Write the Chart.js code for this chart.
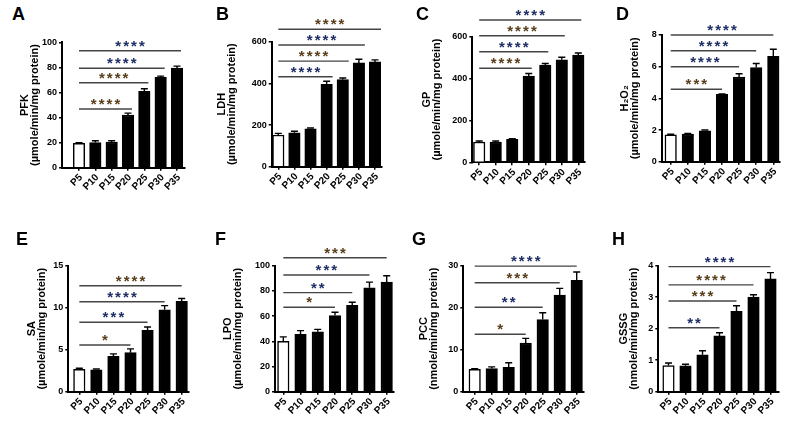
<!DOCTYPE html>
<html><head><meta charset="utf-8">
<script src="https://cdn.jsdelivr.net/npm/chart.js@4"></script>
<style>
html,body{margin:0;padding:0;background:#fff;}
#wrap{position:relative;width:795px;height:425px;overflow:hidden;background:#fff;}
#wrap canvas{position:absolute;left:0;top:0;}
.lbl{position:absolute;font:bold 18px "Liberation Sans",Arial,sans-serif;color:#000;line-height:1;}
</style></head><body>
<div id="wrap"></div>
<script>
// ---------- DATA ----------
const categories = ['P5','P10','P15','P20','P25','P30','P35'];
const bracketTargets = [3,4,5,6]; // P5 vs P20, P25, P30, P35

const pfkValues = [19.5, 20, 20.5, 42, 61, 72, 79.5];
const pfkErrors = [0.5, 1.5, 1, 1.5, 2, 1, 1.5];
const pfkTicks = [0, 20, 40, 60, 80, 100];
const pfkBracketLevels = [46.8, 67.8, 79.3, 93.3];
const pfkStars = [4, 4, 4, 4];

const ldhValues = [152, 163, 182, 395, 418, 498, 503];
const ldhErrors = [8, 7, 4, 15, 8, 18, 10];
const ldhTicks = [0, 200, 400, 600];
const ldhBracketLevels = [432, 507, 584, 659.5];
const ldhStars = [4, 4, 4, 4];

const gpValues = [97, 97, 110, 412, 464, 490, 512];
const gpErrors = [5, 5, 3, 12, 8, 12, 10];
const gpTicks = [0, 200, 400, 600];
const gpBracketLevels = [449, 528.4, 604.8, 679.6];
const gpStars = [4, 4, 4, 4];

const h2o2Values = [1.7, 1.75, 1.95, 4.25, 5.35, 5.95, 6.65];
const h2o2Errors = [0.03, 0.03, 0.05, 0.03, 0.2, 0.25, 0.45];
const h2o2Ticks = [0, 2, 4, 6, 8];
const h2o2BracketLevels = [4.57, 6.0, 7.01, 8.0];
const h2o2Stars = [3, 4, 4, 4];

const saValues = [2.65, 2.6, 4.2, 4.65, 7.3, 9.75, 10.75];
const saErrors = [0.15, 0.1, 0.3, 0.45, 0.4, 0.5, 0.35];
const saTicks = [0, 5, 10, 15];
const saBracketLevels = [5.56, 8.26, 10.71, 12.62];
const saStars = [1, 3, 4, 4];

const lpoValues = [40, 45.5, 47.5, 60.5, 68.5, 82.5, 87];
const lpoErrors = [3.5, 3, 2, 2.5, 2.5, 4.5, 5];
const lpoTicks = [0, 20, 40, 60, 80, 100];
const lpoBracketLevels = [67.0, 78.6, 92.6, 106.3];
const lpoStars = [1, 2, 3, 3];

const pccValues = [5.3, 5.5, 5.8, 11.6, 17.2, 23, 26.5];
const pccErrors = [0.2, 0.4, 1.1, 1.1, 1.6, 1.6, 2.0];
const pccTicks = [0, 10, 20, 30];
const pccBracketLevels = [13.67, 20.1, 25.95, 29.9];
const pccStars = [1, 2, 3, 4];

const gssgValues = [0.83, 0.82, 1.17, 1.77, 2.55, 3.0, 3.58];
const gssgErrors = [0.08, 0.05, 0.13, 0.1, 0.18, 0.08, 0.2];
const gssgTicks = [0, 1, 2, 3, 4];
const gssgBracketLevels = [2.03, 2.88, 3.39, 3.97];
const gssgStars = [2, 3, 4, 4];

const unitMicro = '(µmole/min/mg protein)';
const unitNano = '(nmole/min/mg protein)';

// ---------- LAYOUT / STYLE ----------
const FONT = '"Liberation Sans", Arial, sans-serif';
const NAVY = '#1f2f66', BROWN = '#5a3e1b';
const W = 795, H = 425, HX = 30, TITLE_LH = 0.95, TITLE_SIZE = 11;

const panels = [
 {id:'A', title:['PFK',unitMicro], values:pfkValues, errors:pfkErrors, ticks:pfkTicks, levels:pfkBracketLevels, stars:pfkStars,
  axisX:62, end:185, topY:42.3, zeroY:167.7, first:79, last:177, titleX:25, endOff:4, lx:12, ly:5, starColors:[BROWN,BROWN,NAVY,NAVY]},
 {id:'B', title:['LDH',unitMicro], values:ldhValues, errors:ldhErrors, ticks:ldhTicks, levels:ldhBracketLevels, stars:ldhStars,
  axisX:271.7, end:381.7, topY:41.7, zeroY:166.7, first:278.3, last:375, titleX:222, endOff:6, lx:216, ly:5, starColors:[NAVY,BROWN,NAVY,BROWN]},
 {id:'C', title:['GP',unitMicro], values:gpValues, errors:gpErrors, ticks:gpTicks, levels:gpBracketLevels, stars:gpStars,
  axisX:472.3, end:585, topY:36.7, zeroY:162.3, first:479.2, last:578.3, titleX:427, endOff:3, lx:416, ly:5, starColors:[BROWN,NAVY,BROWN,NAVY]},
 {id:'D', title:['H₂O₂',unitMicro], values:h2o2Values, errors:h2o2Errors, ticks:h2o2Ticks, levels:h2o2BracketLevels, stars:h2o2Stars,
  axisX:661.7, end:780, topY:35, zeroY:161.7, first:670.7, last:773.3, titleX:625, endOff:0, lx:616, ly:5, starColors:[BROWN,NAVY,NAVY,NAVY]},
 {id:'E', title:['SA',unitMicro], values:saValues, errors:saErrors, ticks:saTicks, levels:saBracketLevels, stars:saStars,
  axisX:68.3, end:188.3, topY:265.7, zeroY:391.7, first:79.3, last:181.7, titleX:31.5, endOff:0, lx:16, ly:230, starColors:[BROWN,NAVY,NAVY,BROWN]},
 {id:'F', title:['LPO',unitMicro], values:lpoValues, errors:lpoErrors, ticks:lpoTicks, levels:lpoBracketLevels, stars:lpoStars,
  axisX:275, end:393.3, topY:265.7, zeroY:391.7, first:283.3, last:386.7, titleX:228, endOff:0, lx:215, ly:230, starColors:[BROWN,NAVY,NAVY,BROWN]},
 {id:'G', title:['PCC',unitNano], values:pccValues, errors:pccErrors, ticks:pccTicks, levels:pccBracketLevels, stars:pccStars,
  axisX:463.3, end:583.3, topY:265.7, zeroY:391.7, first:474.7, last:576.7, titleX:423.5, endOff:0, lx:412, ly:230, starColors:[BROWN,NAVY,BROWN,NAVY]},
 {id:'H', title:['GSSG',unitNano], values:gssgValues, errors:gssgErrors, ticks:gssgTicks, levels:gssgBracketLevels, stars:gssgStars,
  axisX:658.3, end:778.3, topY:265.7, zeroY:391.7, first:668.5, last:770.5, titleX:623.5, endOff:0, lx:612, ly:230, starColors:[NAVY,BROWN,BROWN,NAVY]}
];

function annotPlugin(p){
  return {
    id:'annot'+p.id,
    afterDatasetsDraw(chart){
      const ctx = chart.ctx, xs = chart.scales.x, ys = chart.scales.y;
      const meta = chart.getDatasetMeta(0);
      ctx.save();
      // error bars (upper whisker only)
      ctx.strokeStyle = '#000'; ctx.lineWidth = 1.4;
      p.values.forEach((v,i)=>{
        const x = meta.data[i].x;
        const y0 = ys.getPixelForValue(v), y1 = ys.getPixelForValue(v + p.errors[i]);
        ctx.beginPath();
        ctx.moveTo(x, y0); ctx.lineTo(x, y1);
        ctx.moveTo(x-3.5, y1); ctx.lineTo(x+3.5, y1);
        ctx.stroke();
      });
      // significance brackets
      bracketTargets.forEach((t,k)=>{
        const y = ys.getPixelForValue(p.levels[k]);
        const x1 = xs.getPixelForValue(0), x2 = xs.getPixelForValue(t) + p.endOff;
        ctx.strokeStyle = '#454545'; ctx.lineWidth = 1.4;
        ctx.beginPath(); ctx.moveTo(x1, y); ctx.lineTo(x2, y); ctx.stroke();
        const n = p.stars[k], cx = (x1 + x2) / 2;
        ctx.fillStyle = p.starColors[k];
        ctx.font = 'bold 15px ' + FONT;
        ctx.textAlign = 'center'; ctx.textBaseline = 'alphabetic';
        for (let i = 0; i < n; i++) ctx.fillText('*', cx + (i - (n-1)/2) * 7.9, y);
      });
      ctx.restore();
    }
  };
}

const wrap = document.getElementById('wrap');
panels.forEach(p=>{
  const lbl = document.createElement('div');
  lbl.className = 'lbl'; lbl.textContent = p.id;
  lbl.style.left = p.lx + 'px'; lbl.style.top = p.ly + 'px';
  wrap.appendChild(lbl);

  const cv = document.createElement('canvas');
  cv.width = W; cv.height = H;
  cv.style.width = W + 'px'; cv.style.height = H + 'px';
  wrap.appendChild(cv);

  const s = (p.last - p.first) / 6;
  const xmin = -(p.first - p.axisX) / s;
  const xmax = 6 + (p.end - p.last) / s;
  const x0 = p.titleX - TITLE_SIZE * TITLE_LH / 2;
  const wy = p.axisX - x0;
  const tickFont = {family: FONT, size: 9, weight: 'bold'};
  const gridOpts = {display:true, drawOnChartArea:false, drawTicks:true, tickLength:3, color:'#000', lineWidth:1.5, offset:false};

  new Chart(cv, {
    type: 'bar',
    data: {
      datasets: [{
        data: p.values.map((v,i)=>({x:i, y:v})),
        backgroundColor: p.values.map((v,i)=> i===0 ? '#ffffff' : '#000000'),
        borderColor: '#000', borderWidth: 1.5, barThickness: 11.5
      }]
    },
    options: {
      responsive: false, animation: false, events: [],
      layout: {padding: {left: x0, top: p.topY, right: W - p.end, bottom: H - p.zeroY - HX}},
      plugins: {legend: {display:false}, tooltip: {enabled:false}},
      scales: {
        x: {
          type: 'linear', min: xmin, max: xmax, offset: false,
          grid: gridOpts,
          border: {display:true, color:'#000', width:2},
          afterBuildTicks: sc => { sc.ticks = categories.map((c,i)=>({value:i})); },
          afterFit: sc => { sc.height = HX; },
          ticks: {autoSkip:false, minRotation:45, maxRotation:45, padding:1, labelOffset:2, color:'#000',
                  font: {family: FONT, size: 10, weight: 'bold'},
                  callback: v => categories[Math.round(v)]}
        },
        y: {
          min: 0, max: p.ticks[p.ticks.length-1],
          grid: gridOpts,
          border: {display:true, color:'#000', width:2},
          afterBuildTicks: sc => { sc.ticks = p.ticks.map(v=>({value:v})); },
          afterFit: sc => { sc.width = wy; },
          ticks: {padding:2, color:'#000', font: tickFont},
          title: {display:true, text: p.title, color:'#000', padding:0,
                  font: {family: FONT, size: TITLE_SIZE, weight:'bold', lineHeight: TITLE_LH}}
        }
      }
    },
    plugins: [annotPlugin(p)]
  });
});
</script>
</body></html>
